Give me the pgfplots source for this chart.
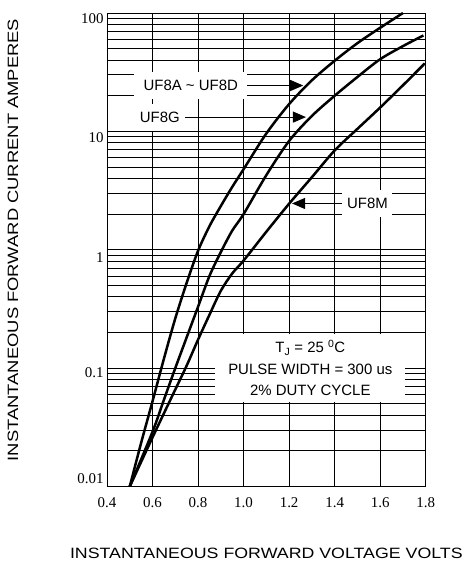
\documentclass[border=0pt]{standalone}
\usepackage{fontspec}
\setmainfont{Liberation Sans}
\newfontfamily\serifnum{Liberation Serif}
\newfontfamily\xlabelfont[FakeStretch=1.19]{Liberation Sans}
\newfontfamily\ylabelfont[FakeStretch=1.23]{Liberation Sans}
\usepackage{pgfplots}
\pgfplotsset{compat=1.18}
\usetikzlibrary{arrows.meta}

\pgfplotstableread{
V I
0.5 0.01
0.55 0.0234
0.6 0.0525
0.65 0.12
0.7 0.263
0.75 0.525
0.8 0.98
0.85 1.58
0.9 2.34
0.95 3.39
1.0 4.79
1.1 9.6
1.2 17
1.3 27
1.4 39.5
1.5 55.6
1.6 75
1.7 100
}\curveA

\pgfplotstableread{
V I
0.5 0.01
0.6 0.029
0.65 0.054
0.7 0.1
0.75 0.182
0.8 0.33
0.85 0.60
0.9 0.955
0.95 1.45
1.0 2.0
1.1 4.27
1.2 8.3
1.3 13.5
1.4 20
1.5 28.8
1.6 40.7
1.7 52.5
1.79 64.6
}\curveG

\pgfplotstableread{
V I
0.5 0.01
0.6 0.026
0.7 0.066
0.75 0.105
0.8 0.174
0.85 0.282
0.9 0.45
0.95 0.63
1.0 0.81
1.1 1.42
1.2 2.45
1.3 4.1
1.4 6.9
1.5 10.5
1.6 15.9
1.7 24.5
1.796 37.5
}\curveM

\begin{document}
\begin{tikzpicture}[x=1bp,y=1bp]
\useasboundingbox (-107,-77.5) rectangle (360,486.5);
\begin{axis}[
  at={(0,0)}, anchor=south west,
  scale only axis, width=318.7bp, height=473.5bp,
  ymode=log, xmin=0.4, xmax=1.8, ymin=0.01, ymax=100,
  xtick={0.4,0.6,0.8,1.0,1.2,1.4,1.6,1.8},
  xticklabels={0.4,0.6,0.8,1.0,1.2,1.4,1.6,1.8},
  ytick={0.01,0.1,1,10,100},
  yticklabels={\smash{\raisebox{3.5bp}{0.01}},\smash{\raisebox{-9bp}{0.1}},\smash{\raisebox{-13bp}{1}},\smash{\raisebox{-11bp}{10}},\smash{\raisebox{-11bp}{100}}},
  major tick length=0pt, minor tick length=0pt,
  xmajorgrids, ymajorgrids, yminorgrids,
  grid style={black, line width=0.9bp},
  major grid style={black, line width=0.9bp},
  minor grid style={black, line width=0.9bp},
  axis line style={black, line width=0.9bp},
  tick label style={font=\serifnum\fontsize{15}{15}\selectfont},
  xticklabel style={yshift=-8bp},
  xlabel={INSTANTANEOUS FORWARD VOLTAGE VOLTS},
  ylabel={INSTANTANEOUS FORWARD CURRENT AMPERES},
  xlabel style={at={(axis description cs:0.5,-0.1404)}, anchor=center, font=\xlabelfont\fontsize{15}{15}\selectfont},
  ylabel style={at={(axis description cs:-0.295,0.5206)}, anchor=center, font=\ylabelfont\fontsize{15}{15}\selectfont},
]
% label boxes
\node[fill=white, minimum width=113bp, minimum height=27bp, inner sep=0pt, font=\fontsize{15}{15}\selectfont] at (axis cs:0.768,24.4) {UF8A \textasciitilde\ UF8D};
\node[fill=white, minimum width=51bp, minimum height=27bp, inner sep=0pt, font=\fontsize{15}{15}\selectfont] at (axis cs:0.632,13.2) {UF8G};
\node[fill=white, minimum width=50bp, minimum height=27bp, inner sep=0pt, font=\fontsize{15}{15}\selectfont] at (axis cs:1.544,2.46) {UF8M};
\node[fill=white, minimum width=190bp, minimum height=68bp, inner sep=0pt, align=center, font=\fontsize{15}{21.5}\selectfont] at (axis cs:1.293,0.1) {T\textsubscript{J} = 25 \textsuperscript{0}C\\PULSE WIDTH = 300 us\\2\% DUTY CYCLE};
% leaders
\draw[line width=0.9bp, -{Triangle[length=13bp,width=11bp]}] (axis cs:1.016,24.4) -- (axis cs:1.262,24.4);
\draw[line width=0.9bp, -{Triangle[length=13bp,width=11bp]}] (axis cs:0.744,13.2) -- (axis cs:1.274,13.2);
\draw[line width=0.9bp, -{Triangle[length=13bp,width=11bp]}] (axis cs:1.434,2.46) -- (axis cs:1.213,2.46);
% curves
\addplot[black, line width=2.5bp, smooth, no marks] table[x=V,y=I] {\curveA};
\addplot[black, line width=2.5bp, smooth, no marks] table[x=V,y=I] {\curveG};
\addplot[black, line width=2.5bp, smooth, no marks] table[x=V,y=I] {\curveM};
\end{axis}
\end{tikzpicture}
\end{document}
